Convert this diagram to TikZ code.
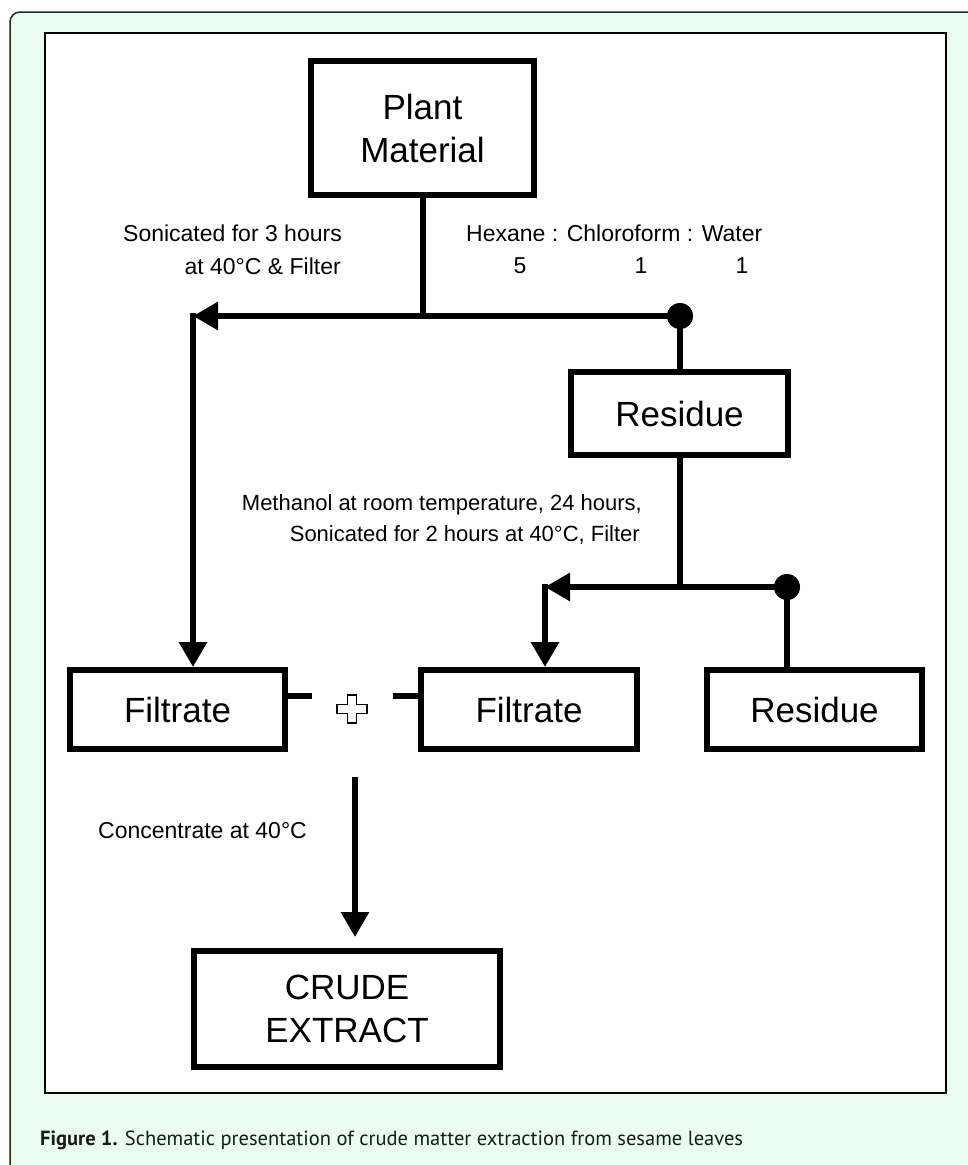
\documentclass[tikz,border=0pt]{standalone}
\usepackage{fontspec}
\setmainfont{Liberation Sans}
\newfontfamily\capfont{PT Sans}
\usetikzlibrary{arrows.meta}
\definecolor{framegreen}{RGB}{234,253,239}
\definecolor{framegray}{RGB}{40,40,40}
\begin{document}
\begin{tikzpicture}[x=1pt,y=-1pt,
  box/.style={draw, line width=6pt, inner sep=0pt, align=center,
    font=\fontsize{35}{43}\selectfont},
  conn/.style={line width=6pt},
  arr/.style={conn, -{Triangle[length=25pt,width=27pt]}},
  lbl/.style={inner sep=0pt, font=\fontsize{23}{33}\selectfont},
  mlbl/.style={inner sep=0pt, font=\fontsize{22}{31}\selectfont},
  dot/.style={circle, fill=black, inner sep=0pt, minimum size=26pt}
]
\useasboundingbox (0,0) rectangle (968,1165);
\fill[white] (0,0) rectangle (968,1165);
\begin{scope}
  \clip (0,0) rectangle (968,1165);
  \draw[draw=framegray, line width=1.5pt, fill=framegreen, rounded corners=10pt] (10,12) rectangle (1000,1200);
\end{scope}
\draw[line width=1.5pt, fill=white] (45,33) rectangle (946,1093);

% boxes
\node[box, minimum width=223pt, minimum height=134pt] (plant) at (422.5,128) {Plant\\Material};
\node[box, minimum width=217pt, minimum height=83pt] (res1) at (679.5,413.5) {Residue};
\node[box, minimum width=215pt, minimum height=79pt] (fil1) at (177.5,709.5) {Filtrate};
\node[box, minimum width=216pt, minimum height=79pt] (fil2) at (529,709.5) {Filtrate};
\node[box, minimum width=215pt, minimum height=79pt] (res2) at (814.5,709.5) {Residue};
\node[box, minimum width=306pt, minimum height=116pt] (crude) at (347,1009) {CRUDE\\EXTRACT};

% junctions
\coordinate (j1) at (422.5,316);
\coordinate (c1) at (193,316);
\node[dot] (d1) at (680,316) {};
\coordinate (j2) at (679.5,587);
\coordinate (c2) at (545,587);
\node[dot] (d2) at (787,587) {};

\draw[conn] (plant.south) -- (j1);
\draw[arr] (d1.center) -- (c1);
\draw[arr] ([yshift=3pt]c1) -- (c1 |- fil1.north);
\draw[conn] (d1.center) -- (d1 |- res1.north);
\draw[conn] (res1.south) -- (j2);
\draw[arr] (d2.center) -- (c2);
\draw[arr] ([yshift=3pt]c2) -- (c2 |- fil2.north);
\draw[conn] (d2.center) -- (d2 |- res2.north);
\node[dot] at (d1) {};
\node[dot] at (d2) {};

% stubs and plus
\coordinate (s1) at (312,696);
\coordinate (s2) at (393,696);
\draw[conn] (fil1.east |- s1) -- (s1);
\draw[conn] (s2) -- (s2 -| fil2.west);
\coordinate (plus) at (352,709);
\draw[line width=1.6pt, fill=white]
  ([shift={(-4.5,-14)}]plus) -- ([shift={(4.5,-14)}]plus) -- ([shift={(4.5,-4.5)}]plus)
  -- ([shift={(15,-4.5)}]plus) -- ([shift={(15,4.5)}]plus) -- ([shift={(4.5,4.5)}]plus)
  -- ([shift={(4.5,14)}]plus) -- ([shift={(-4.5,14)}]plus) -- ([shift={(-4.5,4.5)}]plus)
  -- ([shift={(-15,4.5)}]plus) -- ([shift={(-15,-4.5)}]plus) -- ([shift={(-4.5,-4.5)}]plus) -- cycle;

% concentrate arrow
\coordinate (t3) at (355,777);
\draw[arr] (t3) -- ([yshift=11pt]t3 |- crude.north);

% labels
\node[lbl, anchor=base east] (l1a) at (342,241.5) {Sonicated for 3 hours};
\node[lbl, anchor=base east] (l1b) at (341,274.5) {at 40°C \& Filter};
\node[lbl, anchor=base west] (l2a) at (466,241.5) {Hexane : Chloroform : Water};
\node[lbl, anchor=base] (n5) at (520,273.5) {5};
\node[lbl, anchor=base] (n1a) at (641,273.5) {1};
\node[lbl, anchor=base] (n1b) at (742,273.5) {1};
\node[mlbl, anchor=base east] (l3a) at (642,510.5) {Methanol at room temperature, 24 hours,};
\node[mlbl, anchor=base east] (l3b) at (640,541.5) {Sonicated for 2 hours at 40°C, Filter};
\node[lbl, anchor=base west] (l4) at (98,838.5) {Concentrate at 40°C};

% caption
\node[inner sep=0pt, anchor=base west, font=\capfont\fontsize{20.5}{24}\selectfont, text=black!90] (cap) at (40,1145)
  {\textbf{Figure 1.} Schematic presentation of crude matter extraction from sesame leaves};
\end{tikzpicture}
\end{document}
